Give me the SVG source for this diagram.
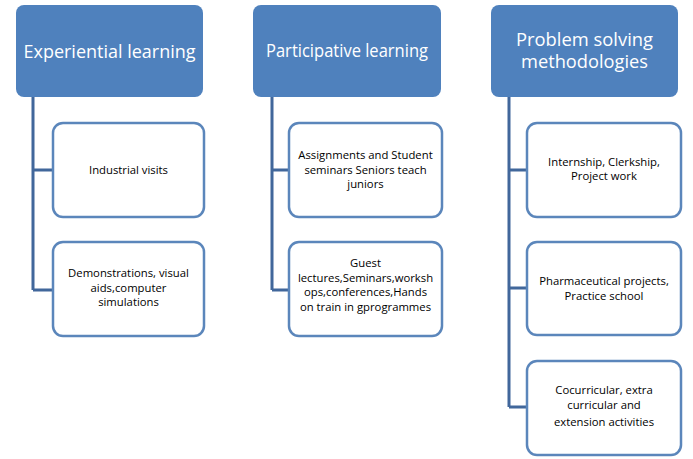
<svg xmlns="http://www.w3.org/2000/svg" width="693" height="459" viewBox="0 0 693 459">
<style>
.hdr{fill:#4f81bd;}
.hdrt{fill:#ffffff;font-family:"Open Sans","Liberation Sans",sans-serif;font-size:18px;text-anchor:middle;}
.box{fill:#ffffff;stroke:#5b86bb;stroke-width:2.5;}
.bt{fill:#000000;font-family:"Open Sans","Liberation Sans",sans-serif;font-size:11.3px;text-anchor:middle;}
.conn{fill:none;stroke:#41679b;stroke-width:3;}
</style>
<rect width="693" height="459" fill="#ffffff"/>
<g id="connectors">
<path class="conn" d="M33,97 V290 M33,170 H53 M33,290 H53"/>
<path class="conn" d="M272,97 V290 M272,170 H288 M272,290 H288"/>
<path class="conn" d="M509,97 V407 M509,170 H527 M509,288 H527 M509,407 H527"/>
</g>
<g id="h1"><rect class="hdr" x="16" y="5" width="187" height="92" rx="8"/><text class="hdrt" x="109.5" y="58" textLength="172" lengthAdjust="spacingAndGlyphs">Experiential learning</text></g>
<g id="h2"><rect class="hdr" x="253" y="5" width="188" height="92" rx="8"/><text class="hdrt" x="347" y="57" textLength="162" lengthAdjust="spacingAndGlyphs">Participative learning</text></g>
<g id="h3"><rect class="hdr" x="491" y="5" width="187" height="92" rx="8"/><text class="hdrt" x="584.5" y="46" textLength="137" lengthAdjust="spacingAndGlyphs">Problem solving</text><text class="hdrt" x="584.5" y="68" textLength="127" lengthAdjust="spacingAndGlyphs">methodologies</text></g>
<g id="c1a"><rect class="box" x="53" y="123" width="151" height="94" rx="10"/><text class="bt" x="128.5" y="174">Industrial visits</text></g>
<g id="c1b"><rect class="box" x="53" y="242" width="151" height="94" rx="10"/><text class="bt" x="128.5" y="277">Demonstrations, visual</text><text class="bt" x="128.5" y="292">aids,computer</text><text class="bt" x="128.5" y="306">simulations</text></g>
<g id="c2a"><rect class="box" x="289" y="123" width="153" height="94" rx="10"/><text class="bt" x="365.5" y="159">Assignments and Student</text><text class="bt" x="365.5" y="174">seminars Seniors teach</text><text class="bt" x="365.5" y="188">juniors</text></g>
<g id="c2b"><rect class="box" x="289" y="242" width="153" height="94" rx="10"/><text class="bt" x="365.5" y="267">Guest</text><text class="bt" x="365.5" y="282">lectures,Seminars,worksh</text><text class="bt" x="365.5" y="296">ops,conferences,Hands</text><text class="bt" x="365.5" y="311">on train in gprogrammes</text></g>
<g id="c3a"><rect class="box" x="527" y="123" width="154" height="94" rx="10"/><text class="bt" x="604" y="166">Internship, Clerkship,</text><text class="bt" x="604" y="180">Project work</text></g>
<g id="c3b"><rect class="box" x="527" y="242" width="154" height="93" rx="10"/><text class="bt" x="604" y="285">Pharmaceutical projects,</text><text class="bt" x="604" y="300">Practice school</text></g>
<g id="c3c"><rect class="box" x="527" y="361" width="154" height="94" rx="10"/><text class="bt" x="604" y="394">Cocurricular, extra</text><text class="bt" x="604" y="409">curricular and</text><text class="bt" x="604" y="426">extension activities</text></g>
</svg>
